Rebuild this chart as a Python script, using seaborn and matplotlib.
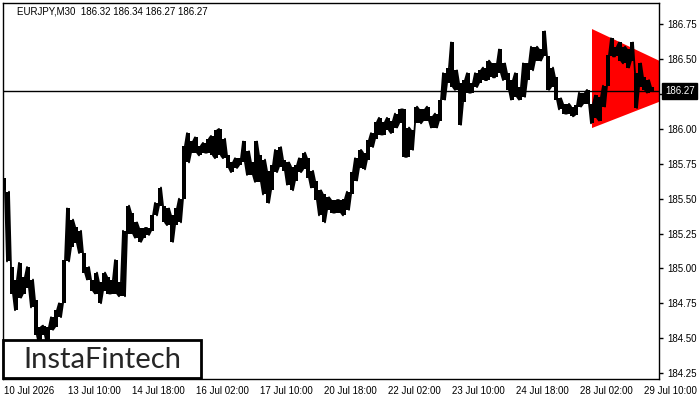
import numpy as np
import pandas as pd
import seaborn as sns
import matplotlib.pyplot as plt
import matplotlib.transforms as mtransforms
from matplotlib.patches import Rectangle

# EURJPY M30 in 4-bar blocks (high / low of each block)
block_high = [
    185.65, 185.55, 185.01, 184.92, 185.04, 184.94, 185.01, 184.92, 184.77, 184.58,
    184.59, 184.58, 184.65, 184.70, 184.75, 185.06, 185.43, 185.35, 185.30, 185.27,
    185.11, 185.01, 184.92, 184.97, 184.90, 184.97, 184.94, 184.92, 185.06, 184.90,
    185.27, 185.45, 185.40, 185.33, 185.29, 185.29, 185.29, 185.38, 185.47, 185.58,
    185.45, 185.43, 185.38, 185.43, 185.50, 185.88, 185.97, 185.91, 185.94, 185.88,
    185.90, 185.93, 185.95, 185.99, 186.00, 185.93, 185.81, 185.76, 185.79, 185.79,
    185.91, 185.84, 185.76, 185.91, 185.81, 185.78, 185.70, 185.74, 185.85, 185.87,
    185.78, 185.76, 185.73, 185.74, 185.79, 185.83, 185.79, 185.70, 185.63, 185.56,
    185.53, 185.51, 185.49, 185.49, 185.49, 185.50, 185.55, 185.69, 185.79, 185.85,
    185.83, 185.92, 185.97, 186.05, 186.08, 186.05, 186.08, 186.06, 186.11, 186.14,
    186.14, 186.01, 185.99, 186.16, 186.14, 186.14, 186.16, 186.09, 186.11, 186.21,
    186.40, 186.44, 186.62, 186.42, 186.33, 186.35, 186.40, 186.33, 186.40, 186.42,
    186.44, 186.49, 186.47, 186.47, 186.57, 186.47, 186.40, 186.35, 186.40, 186.30,
    186.47, 186.47, 186.59, 186.59, 186.57, 186.70, 186.52, 186.44, 186.37, 186.22,
    186.18, 186.18, 186.16, 186.17, 186.26, 186.26, 186.28, 186.18, 186.24, 186.23,
    186.31, 186.53, 186.65, 186.59, 186.62, 186.59, 186.57, 186.62, 186.40, 186.47,
    186.37, 186.35, 186.30,
]
block_low = [
    185.56, 185.05, 184.82, 184.70, 184.79, 184.82, 184.86, 184.72, 184.52, 184.45,
    184.52, 184.45, 184.56, 184.58, 184.65, 184.75, 185.05, 185.15, 185.18, 185.11,
    184.97, 184.92, 184.84, 184.82, 184.75, 184.84, 184.82, 184.82, 184.82, 184.80,
    184.80, 185.25, 185.25, 185.22, 185.19, 185.22, 185.24, 185.27, 185.38, 185.45,
    185.33, 185.31, 185.19, 185.31, 185.33, 185.50, 185.76, 185.83, 185.83, 185.81,
    185.83, 185.83, 185.81, 185.79, 185.81, 185.79, 185.72, 185.69, 185.72, 185.74,
    185.76, 185.67, 185.67, 185.62, 185.62, 185.53, 185.47, 185.56, 185.69, 185.73,
    185.70, 185.60, 185.56, 185.63, 185.69, 185.71, 185.65, 185.58, 185.49, 185.38,
    185.33, 185.42, 185.40, 185.40, 185.40, 185.38, 185.42, 185.53, 185.63, 185.72,
    185.71, 185.78, 185.87, 185.93, 185.96, 185.96, 185.99, 185.97, 186.01, 186.04,
    185.80, 185.80, 185.85, 186.04, 186.04, 186.06, 186.06, 186.01, 186.01, 186.06,
    186.21, 186.33, 186.30, 186.28, 186.03, 186.19, 186.26, 186.26, 186.30, 186.33,
    186.35, 186.35, 186.37, 186.37, 186.40, 186.35, 186.28, 186.21, 186.23, 186.21,
    186.23, 186.35, 186.42, 186.49, 186.49, 186.52, 186.28, 186.30, 186.21, 186.14,
    186.11, 186.11, 186.09, 186.10, 186.16, 186.18, 186.18, 186.04, 186.08, 186.06,
    186.16, 186.31, 186.52, 186.52, 186.49, 186.47, 186.44, 186.49, 186.15, 186.30,
    186.28, 186.26, 186.27,
]
BARS_PER_BLOCK = 4

# bid line and current quote
last_price = 186.27
title_text = "EURJPY,M30  186.32 186.34 186.27 186.27"

# symmetrical triangle pattern (bar index, upper / lower border)
tri_bar = [588, 656]
tri_upper = [186.72, 186.49]
tri_lower = [186.01, 186.20]

# axis labels
x_tick_bars = [0, 64, 128, 192, 256, 320, 384, 448, 512, 576, 640]
x_tick_labels = ["10 Jul 2026", "13 Jul 10:00", "14 Jul 18:00", "16 Jul 02:00",
                 "17 Jul 10:00", "20 Jul 18:00", "22 Jul 02:00", "23 Jul 10:00",
                 "24 Jul 18:00", "28 Jul 02:00", "29 Jul 10:00"]
y_ticks = [184.25, 184.50, 184.75, 185.00, 185.25, 185.50, 185.75, 186.00,
           186.25, 186.50, 186.75]

sns.set_style("white")
plt.rcParams["font.family"] = ["Liberation Sans", "DejaVu Sans"]

fig = plt.figure(figsize=(7, 4), dpi=100)
ax = fig.add_axes([3 / 700, 21 / 400, 656 / 700, 376 / 400])

n = len(block_high)
centers = np.arange(n) * BARS_PER_BLOCK + 0.5
highs = np.array(block_high)
lows = np.array(block_low)

# triangle behind the price
ax.fill_between(tri_bar, tri_lower, tri_upper, color="#ff0000", lw=0, zorder=1)

# price ranges
ax.bar(centers, highs - lows, bottom=lows, width=3.3,
       color="black", lw=0, zorder=3)

# zigzag through highs and lows for the spiky look
even = np.arange(n) % 2 == 0
zig = pd.DataFrame({
    "bar": np.ravel(np.column_stack([centers - 1, centers + 1])),
    "price": np.ravel(np.column_stack([np.where(even, highs, lows),
                                       np.where(even, lows, highs)])),
})
sns.lineplot(data=zig, x="bar", y="price", sort=False, estimator=None,
             color="black", lw=1.3, ax=ax, zorder=4)

# bid line
ax.axhline(last_price, color="black", lw=1, zorder=5)

ax.set_xlim(-0.5, 655.5)
ax.set_ylim(184.207, 186.903)
ax.set_xlabel("")
ax.set_ylabel("")

ax.set_xticks(x_tick_bars)
ax.set_xticklabels(x_tick_labels)
for lab in ax.get_xticklabels():
    lab.set_horizontalalignment("left")

ax.yaxis.tick_right()
ax.set_yticks(y_ticks)
# 186.25 sits under the price tag, as in the terminal
ax.set_yticklabels(["" if abs(v - 186.25) < 1e-9 else f"{v:.2f}" for v in y_ticks])

ax.tick_params(axis="both", direction="out", length=4, width=1, color="black",
               labelsize=7, labelcolor="black", pad=2)
ax.tick_params(axis="y", length=3, pad=3)
ax.tick_params(axis="x", pad=1)

for side in ["left", "right", "top", "bottom"]:
    ax.spines[side].set_visible(True)
    ax.spines[side].set_color("black")
    ax.spines[side].set_linewidth(1)

# price tag on the right axis
trans = mtransforms.blended_transform_factory(ax.transAxes, ax.transData)
ax.text(1.009, last_price, f"{last_price:.2f}", transform=trans, ha="left",
        va="center", fontsize=7, color="white", clip_on=False, zorder=10,
        bbox=dict(boxstyle="square,pad=0.3", fc="black", ec="black"))

# title
fig.text(17 / 700, 1 - 11 / 400, title_text, fontsize=7, color="black",
         ha="left", va="center")

# logo box
fig.patches.append(Rectangle((3 / 700, 22 / 400), 198 / 700, 38 / 400,
                             transform=fig.transFigure, fc="white", ec="black",
                             lw=2, zorder=20))
fig.text(102 / 700, 1 - 360 / 400, "InstaFintech", fontsize=21, color="#262626",
         family="Lato", ha="center", va="center", zorder=21)

fig.savefig("out.png", dpi=100)
